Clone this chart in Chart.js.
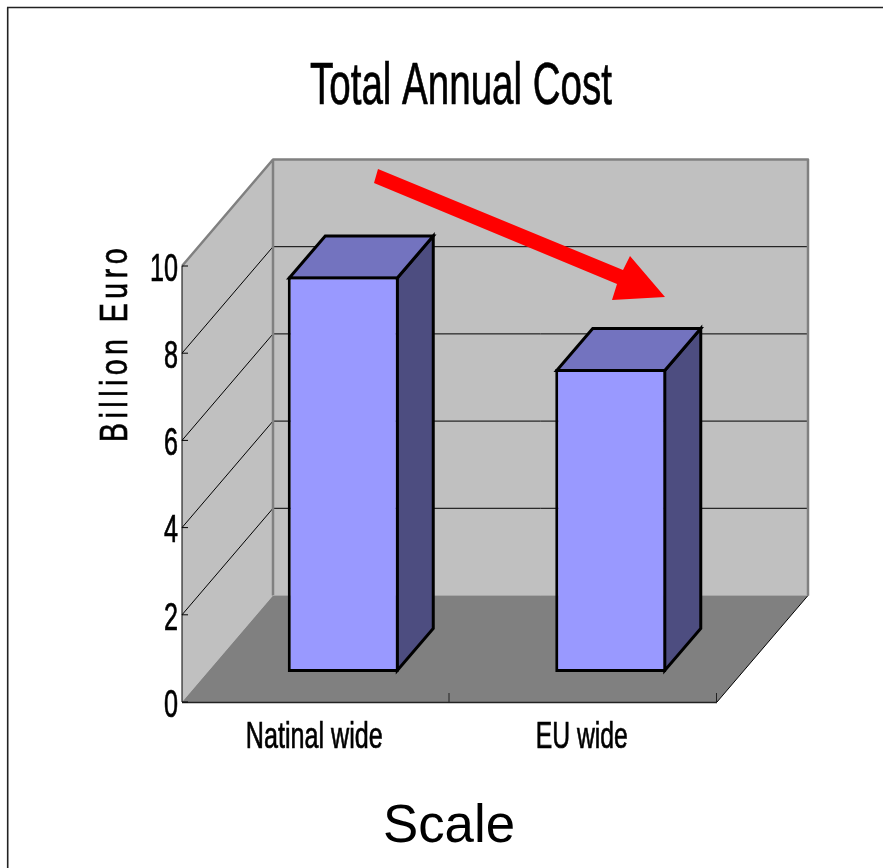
<!DOCTYPE html>
<html>
<head>
<meta charset="utf-8">
<title>Total Annual Cost</title>
<script src="https://cdn.jsdelivr.net/npm/chart.js@4/dist/chart.umd.min.js"></script>
<style>
  html, body { margin: 0; padding: 0; background: #fff; overflow: hidden; }
  #wrap { position: absolute; left: 0; top: 0; width: 883px; height: 868px; }
</style>
</head>
<body>
<div id="wrap"><canvas id="chart"></canvas></div>
<script>
// Chart content
const categories = ['Natinal wide', 'EU wide'];
const annualCost = [9.07, 6.95];
const yTickValues = [0, 2, 4, 6, 8, 10];
const chartTitle = 'Total Annual Cost';
const yTitle = 'Billion Euro';
const xTitle = 'Scale';

// Oblique projection of the 3D box and of the bars standing in it
const wallDepth = { x: 91, y: 106.5 };
const barInset = { x: 27.5, y: 30 };
const barDepth = { x: 36, y: 42 };
const barOutline = 3;

const colors = {
  wall: '#C0C0C0', floor: '#808080', edge: '#808080',
  barFront: '#9999FF', barTop: '#7373BF', barSide: '#4D4D80'
};

// Red trend arrow, in canvas pixels
const arrowOutline = [[378,169],[623,270],[630,256],[665,297],[612,300],[617,284],[374,183]];

function poly(ctx, pts, fill, stroke, lw) {
  ctx.beginPath();
  pts.forEach((p, i) => i ? ctx.lineTo(p[0], p[1]) : ctx.moveTo(p[0], p[1]));
  ctx.closePath();
  if (fill) { ctx.fillStyle = fill; ctx.fill(); }
  if (stroke) { ctx.strokeStyle = stroke; ctx.lineWidth = lw; ctx.lineJoin = 'miter'; ctx.stroke(); }
}

function line(ctx, x1, y1, x2, y2, color, lw) {
  ctx.beginPath();
  ctx.moveTo(x1, y1);
  ctx.lineTo(x2, y2);
  ctx.strokeStyle = color;
  ctx.lineWidth = lw;
  ctx.stroke();
}

// Draws text squeezed horizontally to a given width, with an optional hairline stroke for weight
function fitText(ctx, text, x, y, font, width, opts) {
  const o = opts || {};
  const weight = o.weight === undefined ? 0.7 : o.weight;
  ctx.save();
  ctx.font = font;
  ctx.letterSpacing = (o.spacing || 0) + 'px';
  ctx.fillStyle = '#000';
  ctx.strokeStyle = '#000';
  ctx.textAlign = o.align || 'center';
  ctx.textBaseline = 'middle';
  const natural = ctx.measureText(text).width;
  ctx.translate(x, y);
  if (o.rotate) ctx.rotate(o.rotate);
  ctx.scale(width / natural, 1);
  ctx.fillText(text, 0, 0);
  if (weight > 0) {
    ctx.lineWidth = weight;
    ctx.strokeText(text, 0, 0);
  }
  ctx.restore();
}

const box3d = {
  id: 'box3d',
  beforeDatasetsDraw(chart) {
    const { ctx, chartArea: a, scales: { y } } = chart;
    const d = wallDepth;
    ctx.save();
    // Outer frame along the top and left of the page
    line(ctx, 7.7, 868, 7.7, 7.5, '#222', 1.6);
    line(ctx, 7, 7.5, 883, 7.5, '#222', 1.6);

    // Back wall, side wall, floor
    poly(ctx, [[a.left + d.x, a.top - d.y], [a.right + d.x, a.top - d.y], [a.right + d.x, a.bottom - d.y], [a.left + d.x, a.bottom - d.y]], colors.wall);
    poly(ctx, [[a.left, a.top], [a.left + d.x, a.top - d.y], [a.left + d.x, a.bottom - d.y], [a.left, a.bottom]], colors.wall);
    poly(ctx, [[a.left, a.bottom], [a.right, a.bottom], [a.right + d.x, a.bottom - d.y], [a.left + d.x, a.bottom - d.y]], colors.floor);

    // Gridlines wrap from the front axis along the side wall and the back wall
    y.ticks.forEach(t => {
      if (t.value === y.min || t.value === y.max) return;
      const py = y.getPixelForValue(t.value);
      line(ctx, a.left, py, a.left + d.x, py - d.y, '#000', 1);
      line(ctx, a.left + d.x, py - d.y, a.right + d.x, py - d.y, '#000', 1);
    });

    // Grey edges of the walls
    ctx.lineJoin = 'round';
    ctx.beginPath();
    ctx.moveTo(a.left, a.top);
    ctx.lineTo(a.left + d.x, a.top - d.y);
    ctx.lineTo(a.right + d.x, a.top - d.y);
    ctx.lineTo(a.right + d.x, a.bottom - d.y);
    ctx.moveTo(a.left + d.x, a.top - d.y);
    ctx.lineTo(a.left + d.x, a.bottom - d.y);
    ctx.strokeStyle = colors.edge;
    ctx.lineWidth = 2.5;
    ctx.stroke();
    line(ctx, a.left + d.x, a.bottom - d.y, a.right + d.x, a.bottom - d.y, '#A8A8A8', 1);

    // Axis lines and inward tick marks
    line(ctx, a.left, a.top, a.left, a.bottom, '#000', 1);
    line(ctx, a.left, a.bottom + 0.5, a.right, a.bottom + 0.5, '#222', 1.5);
    line(ctx, a.right, a.bottom, a.right + d.x, a.bottom - d.y, '#000', 1);
    y.ticks.forEach(t => {
      const py = y.getPixelForValue(t.value);
      line(ctx, a.left, py, a.left + 6, py, '#000', 1);
    });
    const step = (a.right - a.left) / categories.length;
    for (let i = 1; i <= categories.length; i++) {
      const px = a.left + step * i;
      line(ctx, px - 0.5, a.bottom, px - 0.5, a.bottom - 9, '#222', 1);
    }
    ctx.restore();
  },

  // The bars' front faces sit inside the box, so shift them off the front plane
  beforeDatasetDraw(chart, args) {
    const { ctx } = chart;
    ctx.save();
    ctx.translate(barInset.x, -barInset.y);
    const bd = barDepth;
    const half = barOutline / 2;
    chart.getDatasetMeta(args.index).data.forEach(bar => {
      const l = bar.x - bar.width / 2 + half, r = bar.x + bar.width / 2 - half;
      const t = bar.y + half, b = bar.base - half;
      poly(ctx, [[r, t], [r + bd.x, t - bd.y], [r + bd.x, b - bd.y], [r, b]], colors.barSide, '#000', barOutline);
      poly(ctx, [[l, t], [r, t], [r + bd.x, t - bd.y], [l + bd.x, t - bd.y]], colors.barTop, '#000', barOutline);
    });
  },
  afterDatasetDraw(chart) {
    chart.ctx.restore();
  },

  afterDatasetsDraw(chart) {
    const { ctx, chartArea: a, scales: { x, y } } = chart;
    poly(ctx, arrowOutline, '#FF0000');

    // Labels use a tall, condensed letterform
    const face = '"Liberation Sans"';
    y.ticks.forEach(t => {
      const label = String(t.value);
      fitText(ctx, label, a.left - 4, y.getPixelForValue(t.value) + 4, `39px ${face}`, label.length > 1 ? 28 : 14, { align: 'right' });
    });
    const labelWidths = [137, 92];
    categories.forEach((c, i) => {
      fitText(ctx, c, x.getPixelForValue(i) - 1.5, 738, `37px ${face}`, labelWidths[i]);
    });
    fitText(ctx, chartTitle, 461, 88, `59px ${face}`, 302);
    fitText(ctx, yTitle, 117, 343, `38px ${face}`, 198, { rotate: -Math.PI / 2, spacing: 6 });
    fitText(ctx, xTitle, 449, 827, `53px ${face}`, 132, { weight: 0 });
  }
};

new Chart(document.getElementById('chart'), {
  type: 'bar',
  data: {
    labels: categories,
    datasets: [{
      label: 'Total annual cost',
      data: annualCost,
      backgroundColor: colors.barFront,
      borderColor: '#000',
      borderWidth: barOutline,
      borderSkipped: false,
      barPercentage: 0.415,
      categoryPercentage: 1,
      clip: false
    }]
  },
  options: {
    responsive: true,
    maintainAspectRatio: false,
    animation: false,
    layout: { padding: { left: 182, right: 166, top: 266, bottom: 166 } },
    plugins: { legend: { display: false }, tooltip: { enabled: false } },
    scales: {
      x: { display: false },
      y: {
        display: false,
        min: yTickValues[0],
        max: yTickValues[yTickValues.length - 1],
        afterBuildTicks(scale) { scale.ticks = yTickValues.map(value => ({ value })); }
      }
    }
  },
  plugins: [box3d]
});
</script>
</body>
</html>
